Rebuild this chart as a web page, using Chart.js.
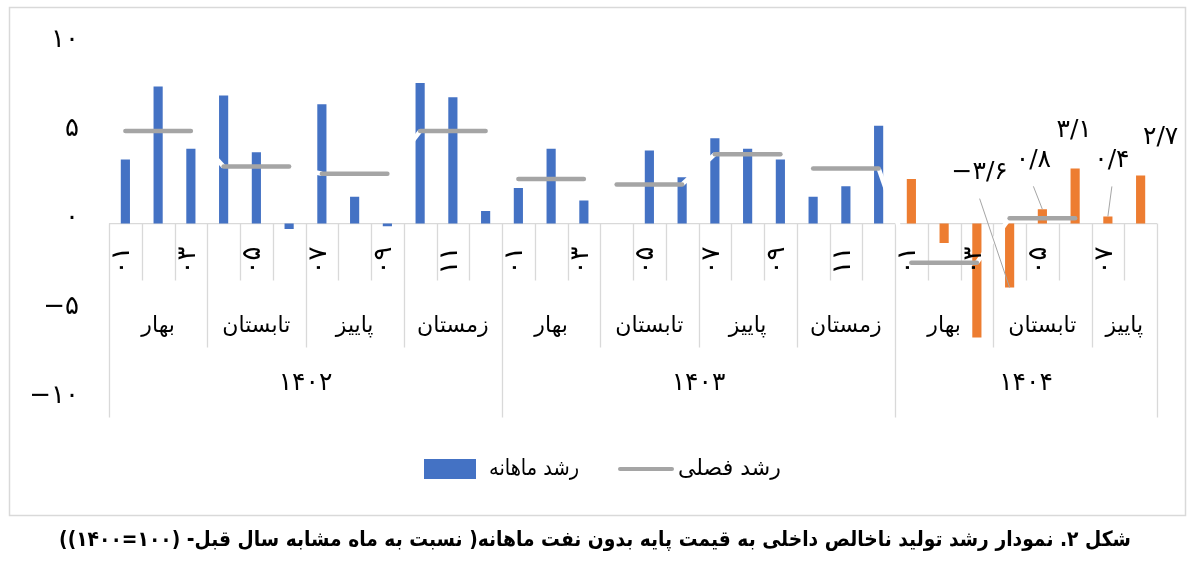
<!DOCTYPE html>
<html>
<head>
<meta charset="utf-8">
<script src="https://cdn.jsdelivr.net/npm/chart.js@4.4.1/dist/chart.umd.min.js"></script>
<style>
  html, body { margin: 0; padding: 0; background: #fff; overflow: hidden; }
  #wrap { position: relative; width: 1200px; height: 565px; overflow: hidden; }
  #caption {
    position: absolute; left: -205px; top: 527px; width: 1600px;
    text-align: center; direction: rtl; white-space: nowrap;
    font: bold 21px 'DejaVu Sans', sans-serif; color: #000;
    transform: scaleX(0.89); transform-origin: 50% 0;
  }
</style>
</head>
<body>
<div id="wrap">
  <canvas id="gdpChart" width="1200" height="565"></canvas>
  <div id="caption" dir="rtl">شکل ۲. نمودار رشد تولید ناخالص داخلی به قیمت پایه بدون نفت ماهانه( نسبت به ماه مشابه سال قبل- (۱۰۰=۱۴۰۰))</div>
</div>
<script>
const years = ['۱۴۰۲', '۱۴۰۳', '۱۴۰۴'];
const seasons = ['بهار', 'تابستان', 'پاییز', 'زمستان'];
const monthsPerYear = [12, 12, 8];

// monthly growth, % vs same month last year
const monthly1402 = [3.6, 7.7, 4.2, 7.2, 4.0, -0.3, 6.7, 1.5, -0.15, 7.9, 7.1, 0.7];
const monthly1403 = [2.0, 4.2, 1.3, 0.0, 4.1, 2.6, 4.8, 4.2, 3.6, 1.5, 2.1, 5.5];
const monthly1404 = [2.5, -1.1, -6.4, -3.6, 0.8, 3.1, 0.4, 2.7];

// seasonal growth (one value per season)
const seasonal1402 = [5.2, 3.2, 2.8, 5.2];
const seasonal1403 = [2.5, 2.2, 3.9, 3.1];
const seasonal1404 = [-2.2, 0.3, null];

const yTicks = [-10, -5, 0, 5, 10];
const labeledMonths = [27, 28, 29, 30, 31];

const BLUE = '#4472C4', ORANGE = '#ED7D31', GRAY = '#A5A5A5', LINE = '#D9D9D9';
const FONT = "'DejaVu Sans', sans-serif";

const fa = s => String(s).replace(/\d/g, d => '۰۱۲۳۴۵۶۷۸۹'[d]).replace('.', '/').replace('-', '−');

const monthly = monthly1402.concat(monthly1403, monthly1404);
const seasonalByYear = [seasonal1402, seasonal1403, seasonal1404];
const labels = [], yearOf = [], seasonOf = [], seasonLine = [];
monthsPerYear.forEach((n, y) => {
    for (let m = 0; m < n; m++) {
        labels.push(fa(String(m + 1).padStart(2, '0')));
        yearOf.push(y);
        seasonOf.push(y * 4 + Math.floor(m / 3));
        seasonLine.push(seasonalByYear[y][Math.floor(m / 3)]);
    }
});
const barColors = yearOf.map(y => y === 2 ? ORANGE : BLUE);

// where each data label sits relative to its bar tip, and if it gets a leader line
const labelPlace = {
    27: { dx: -30, dy: -115, leader: true },
    28: { dx: -9, dy: -49, leader: true },
    29: { dx: -1, dy: -38, leader: false },
    30: { dx: 4, dy: -56, leader: true },
    31: { dx: 20, dy: -38, leader: false }
};

const sameSeason = c => seasonOf[c.p0DataIndex] === seasonOf[c.p1DataIndex];

const axisTable = {
    id: 'axisTable',
    beforeDraw(chart) {
        const ctx = chart.ctx;
        ctx.save();
        ctx.fillStyle = '#fff';
        ctx.fillRect(0, 0, chart.width, chart.height);
        ctx.strokeStyle = LINE;
        ctx.lineWidth = 1.5;
        ctx.strokeRect(9.5, 7.5, 1176, 508);
        ctx.restore();
    },
    beforeDatasetsDraw(chart) {
        const ctx = chart.ctx, x = chart.scales.x, y = chart.scales.y;
        const y0 = y.getPixelForValue(0);
        const rowMonth = y0 + 57, rowSeason = y0 + 124, rowYear = y0 + 194;
        const n = labels.length;
        ctx.save();
        ctx.strokeStyle = LINE;
        ctx.lineWidth = 1.3;
        ctx.beginPath();
        ctx.moveTo(x.getPixelForValue(-0.5), y0);
        ctx.lineTo(x.getPixelForValue(n - 0.5), y0);
        for (let i = 0; i <= n; i++) {
            const px = Math.round(x.getPixelForValue(i - 0.5)) + 0.5;
            let bottom = rowMonth;
            if (i === 0 || i === n || yearOf[i] !== yearOf[i - 1]) bottom = rowYear;
            else if (seasonOf[i] !== seasonOf[i - 1]) bottom = rowSeason;
            ctx.moveTo(px, y0);
            ctx.lineTo(px, bottom);
        }
        ctx.stroke();
        ctx.restore();
    },
    afterDatasetsDraw(chart) {
        const ctx = chart.ctx, x = chart.scales.x, y = chart.scales.y;
        const y0 = y.getPixelForValue(0);
        ctx.save();
        ctx.fillStyle = '#000';

        // month row: every other label, rotated
        ctx.font = '26px ' + FONT;
        ctx.textAlign = 'center';
        ctx.textBaseline = 'middle';
        labels.forEach((lab, i) => {
            if (i % 2) return;
            ctx.save();
            ctx.translate(x.getPixelForValue(i) - 3, y0 + 37);
            ctx.rotate(-Math.PI / 2);
            ctx.fillText(lab, 0, 0);
            ctx.restore();
        });

        // season row and year row
        ctx.font = '22px ' + FONT;
        let start = 0;
        for (let i = 1; i <= labels.length; i++) {
            if (i === labels.length || seasonOf[i] !== seasonOf[start]) {
                const cx = (x.getPixelForValue(start - 0.5) + x.getPixelForValue(i - 0.5)) / 2;
                ctx.fillText(seasons[seasonOf[start] % 4], cx, y0 + 103);
                start = i;
            }
        }
        ctx.font = '25px ' + FONT;
        start = 0;
        for (let i = 1; i <= labels.length; i++) {
            if (i === labels.length || yearOf[i] !== yearOf[start]) {
                const cx = (x.getPixelForValue(start - 0.5) + x.getPixelForValue(i - 0.5)) / 2;
                ctx.fillText(years[yearOf[start]], cx, y0 + 160);
                start = i;
            }
        }

        // data labels for the latest months
        const meta = chart.getDatasetMeta(chart.data.datasets.findIndex(d => d.type === 'bar'));
        ctx.font = '25px ' + FONT;
        labeledMonths.forEach(i => {
            const bar = meta.data[i];
            const p = labelPlace[i];
            const lx = bar.x + p.dx, ly = bar.y + p.dy;
            if (p.leader) {
                ctx.strokeStyle = GRAY;
                ctx.lineWidth = 1;
                ctx.beginPath();
                ctx.moveTo(lx, ly + 26);
                ctx.lineTo(bar.x, bar.y);
                ctx.stroke();
            }
            ctx.fillText(fa(monthly[i].toFixed(1)), lx, ly);
        });
        ctx.restore();
    },
    afterDraw(chart) {
        const ctx = chart.ctx;
        ctx.save();
        ctx.fillStyle = BLUE;
        ctx.fillRect(424, 459, 52, 20);
        ctx.strokeStyle = GRAY;
        ctx.lineWidth = 4;
        ctx.lineCap = 'round';
        ctx.beginPath();
        ctx.moveTo(620, 469);
        ctx.lineTo(672, 469);
        ctx.stroke();
        ctx.fillStyle = '#000';
        ctx.font = '22px ' + FONT;
        ctx.textAlign = 'left';
        ctx.textBaseline = 'middle';
        ctx.fillText('رشد ماهانه', 489, 469, 90);
        ctx.fillText('رشد فصلی', 678, 469);
        ctx.restore();
    }
};

const ctx = document.getElementById('gdpChart').getContext('2d');
Chart.defaults.font.family = FONT;

const gdpChart = new Chart(ctx, {
    type: 'bar',
    data: {
        labels: labels,
        datasets: [{
            type: 'line',
            label: 'رشد فصلی',
            data: seasonLine,
            borderColor: GRAY,
            borderWidth: 4.5,
            borderCapStyle: 'round',
            pointRadius: 0,
            spanGaps: false,
            order: 1,
            segment: {
                borderColor: c => sameSeason(c) ? GRAY : 'rgba(0,0,0,0)'
            }
        }, {
            // white joins between seasons, drawn under the grey line
            type: 'line',
            label: '',
            data: seasonLine,
            borderColor: '#ffffff',
            borderWidth: 4.5,
            borderCapStyle: 'butt',
            pointRadius: 0,
            spanGaps: false,
            order: 2,
            segment: {
                borderColor: c => sameSeason(c) ? 'rgba(0,0,0,0)' : '#ffffff'
            }
        }, {
            type: 'bar',
            label: 'رشد ماهانه',
            data: monthly,
            backgroundColor: barColors,
            barPercentage: 0.28,
            categoryPercentage: 1,
            order: 3
        }]
    },
    options: {
        responsive: false,
        animation: false,
        layout: { padding: { left: 9, top: 44.5, right: 43, bottom: 163.5 } },
        plugins: {
            legend: { display: false },
            tooltip: { enabled: false }
        },
        scales: {
            x: { display: false, offset: true },
            y: {
                min: -10,
                max: 10,
                afterBuildTicks: s => { s.ticks = yTicks.map(v => ({ value: v })); },
                afterFit: s => { s.width = 100; },
                grid: { display: false, drawTicks: false },
                border: { display: false },
                ticks: {
                    padding: 30,
                    labelOffset: -5,
                    color: '#000',
                    font: { size: 26 },
                    callback: v => fa(v)
                }
            }
        }
    },
    plugins: [axisTable]
});
</script>
</body>
</html>
